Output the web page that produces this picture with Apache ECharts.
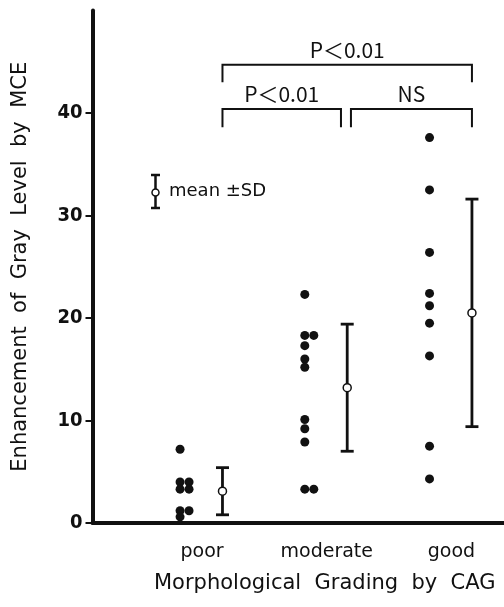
<!DOCTYPE html>
<html>
<head>
<meta charset="utf-8">
<script src="https://cdn.jsdelivr.net/npm/echarts@6.0.0/dist/echarts.min.js"></script>
<style>
    html, body { margin: 0; padding: 0; background: #fff; }
    #main { width: 504px; height: 607px; }
</style>
</head>
<body>
<div id="main"></div>
<script>
// categories and values
const categories = ['poor', 'moderate', 'good'];
const poorValues = [7.2, 4.0, 4.0, 3.3, 3.3, 1.2, 1.2, 0.6];
const moderateValues = [22.3, 18.3, 18.3, 17.3, 16.0, 15.2, 10.1, 9.2, 7.9, 3.3, 3.3];
const goodValues = [37.6, 32.5, 26.4, 22.4, 21.2, 19.5, 16.3, 7.5, 4.3];
const meanValues = [3.1, 13.2, 20.5];
const sdValues = [2.3, 6.2, 11.1];
const yTicks = [0, 10, 20, 30, 40];
const comparisonPairs = [[0, 2], [0, 1], [1, 2]];
const comparisonLabels = ['P＜0.01', 'P＜0.01', 'NS'];

const groups = [poorValues, moderateValues, goodValues];
const INK = '#111';
const DOT_SHIFT = -0.176;  // dots sit left of the category
const DOT_STEP = 0.072;    // equal values placed side by side
const MEAN_SHIFT = 0.164;  // mean ± SD sits right of the category

// dots
const dotData = [];
groups.forEach(function (vals, gi) {
    const seen = {};
    vals.forEach(function (v) {
        const k = seen[v] || 0;
        seen[v] = k + 1;
        dotData.push([gi + 1 + DOT_SHIFT + k * DOT_STEP, v]);
    });
});

// mean ± SD
const meanData = meanValues.map(function (m, i) { return [i + 1 + MEAN_SHIFT, m]; });
const barData = meanValues.map(function (m, i) {
    return [i + 1 + MEAN_SHIFT, m - sdValues[i], m + sdValues[i]];
});

// comparison brackets: [x1, x2, barY, legY]
const bracketData = comparisonPairs.map(function (p) {
    const wide = p[1] - p[0] > 1;
    const x1 = p[0] + 1 + MEAN_SHIFT + (p[0] === 1 ? 0.03 : 0);
    const x2 = p[1] + 1 + MEAN_SHIFT - (p[1] === 1 ? 0.05 : 0);
    return wide ? [x1, x2, 44.7, 43.0] : [x1, x2, 40.4, 38.6];
});

const myChart = echarts.init(document.getElementById('main'));

function renderErrorBar(params, api) {
    const top = api.coord([api.value(0), api.value(2)]);
    const bot = api.coord([api.value(0), api.value(1)]);
    const cap = 6.5;
    const style = { stroke: INK, lineWidth: 2.8 };
    return {
        type: 'group',
        children: [
            { type: 'line', shape: { x1: top[0], y1: top[1], x2: bot[0], y2: bot[1] }, style: style },
            { type: 'line', shape: { x1: top[0] - cap, y1: top[1], x2: top[0] + cap, y2: top[1] }, style: style },
            { type: 'line', shape: { x1: bot[0] - cap, y1: bot[1], x2: bot[0] + cap, y2: bot[1] }, style: style }
        ]
    };
}

function renderBracket(params, api) {
    const a = api.coord([api.value(0), api.value(2)]);
    const b = api.coord([api.value(1), api.value(2)]);
    const legY = api.coord([api.value(0), api.value(3)])[1];
    const style = { stroke: INK, lineWidth: 2, fill: null };
    return {
        type: 'group',
        children: [
            {
                type: 'polyline',
                shape: { points: [[a[0], legY], [a[0], a[1]], [b[0], b[1]], [b[0], legY]] },
                style: style
            },
            {
                type: 'text',
                x: (a[0] + b[0]) / 2,
                y: a[1] - 4,
                style: {
                    text: comparisonLabels[params.dataIndex],
                    fill: INK,
                    align: 'center',
                    verticalAlign: 'bottom',
                    font: '21px "Liberation Sans Narrow", "Noto Sans CJK JP", sans-serif'
                }
            }
        ]
    };
}

const option = {
    animation: false,
    backgroundColor: '#fff',
    grid: { left: 92.5, right: 0, top: 10.5, bottom: 84, outerBoundsMode: 'none' },
    xAxis: {
        type: 'value',
        min: 0.122,
        max: 3.421,
        name: 'Morphological  Grading  by  CAG',
        nameLocation: 'middle',
        nameGap: 50,
        nameTextStyle: {
            color: INK, fontFamily: 'DejaVu Sans', fontSize: 21,
            padding: [0, 0, 0, 53]
        },
        axisLine: { lineStyle: { color: INK, width: 4 } },
        axisTick: { show: false },
        splitLine: { show: false },
        axisLabel: {
            customValues: [1, 2, 3],
            formatter: function (v) { return categories[Math.round(v) - 1]; },
            color: INK, fontFamily: 'DejaVu Sans', fontSize: 19, margin: 20
        }
    },
    yAxis: {
        type: 'value',
        min: 0,
        max: 50,
        name: 'Enhancement  of  Gray  Level  by  MCE',
        nameLocation: 'middle',
        nameGap: 61,
        nameRotate: 90,
        nameTextStyle: { color: INK, fontFamily: 'DejaVu Sans', fontSize: 21 },
        axisLine: { show: true, lineStyle: { color: INK, width: 4 } },
        axisTick: { show: true, customValues: yTicks, length: 7, lineStyle: { color: INK, width: 2 } },
        splitLine: { show: false },
        axisLabel: {
            customValues: yTicks,
            color: INK, fontWeight: 'bold', fontSize: 20, margin: 10,
            fontFamily: '"Liberation Sans Narrow", "DejaVu Sans Condensed", sans-serif'
        }
    },
    series: [
        {
            name: 'cases',
            type: 'scatter',
            data: dotData,
            symbolSize: 9,
            itemStyle: { color: INK, opacity: 1 },
            z: 3
        },
        {
            name: 'sd',
            type: 'custom',
            data: barData,
            renderItem: renderErrorBar,
            z: 4
        },
        {
            name: 'mean',
            type: 'scatter',
            data: meanData,
            symbolSize: 8,
            itemStyle: { color: '#fff', borderColor: INK, borderWidth: 1.5, opacity: 1 },
            z: 5
        },
        {
            name: 'comparison',
            type: 'custom',
            data: bracketData,
            renderItem: renderBracket,
            clip: false,
            z: 4
        }
    ],
    // key: mean ± SD
    graphic: [
        { type: 'line', shape: { x1: 155.5, y1: 175, x2: 155.5, y2: 208 }, style: { stroke: INK, lineWidth: 2.5 } },
        { type: 'line', shape: { x1: 151, y1: 175, x2: 160, y2: 175 }, style: { stroke: INK, lineWidth: 2.5 } },
        { type: 'line', shape: { x1: 151, y1: 208, x2: 160, y2: 208 }, style: { stroke: INK, lineWidth: 2.5 } },
        { type: 'circle', shape: { cx: 155.5, cy: 192.5, r: 3.5 }, style: { fill: '#fff', stroke: INK, lineWidth: 1.5 } },
        {
            type: 'text', x: 169, y: 191,
            style: { text: 'mean ±SD', fill: INK, font: '18px "DejaVu Sans"', verticalAlign: 'middle' }
        }
    ]
};

myChart.setOption(option);
</script>
</body>
</html>
